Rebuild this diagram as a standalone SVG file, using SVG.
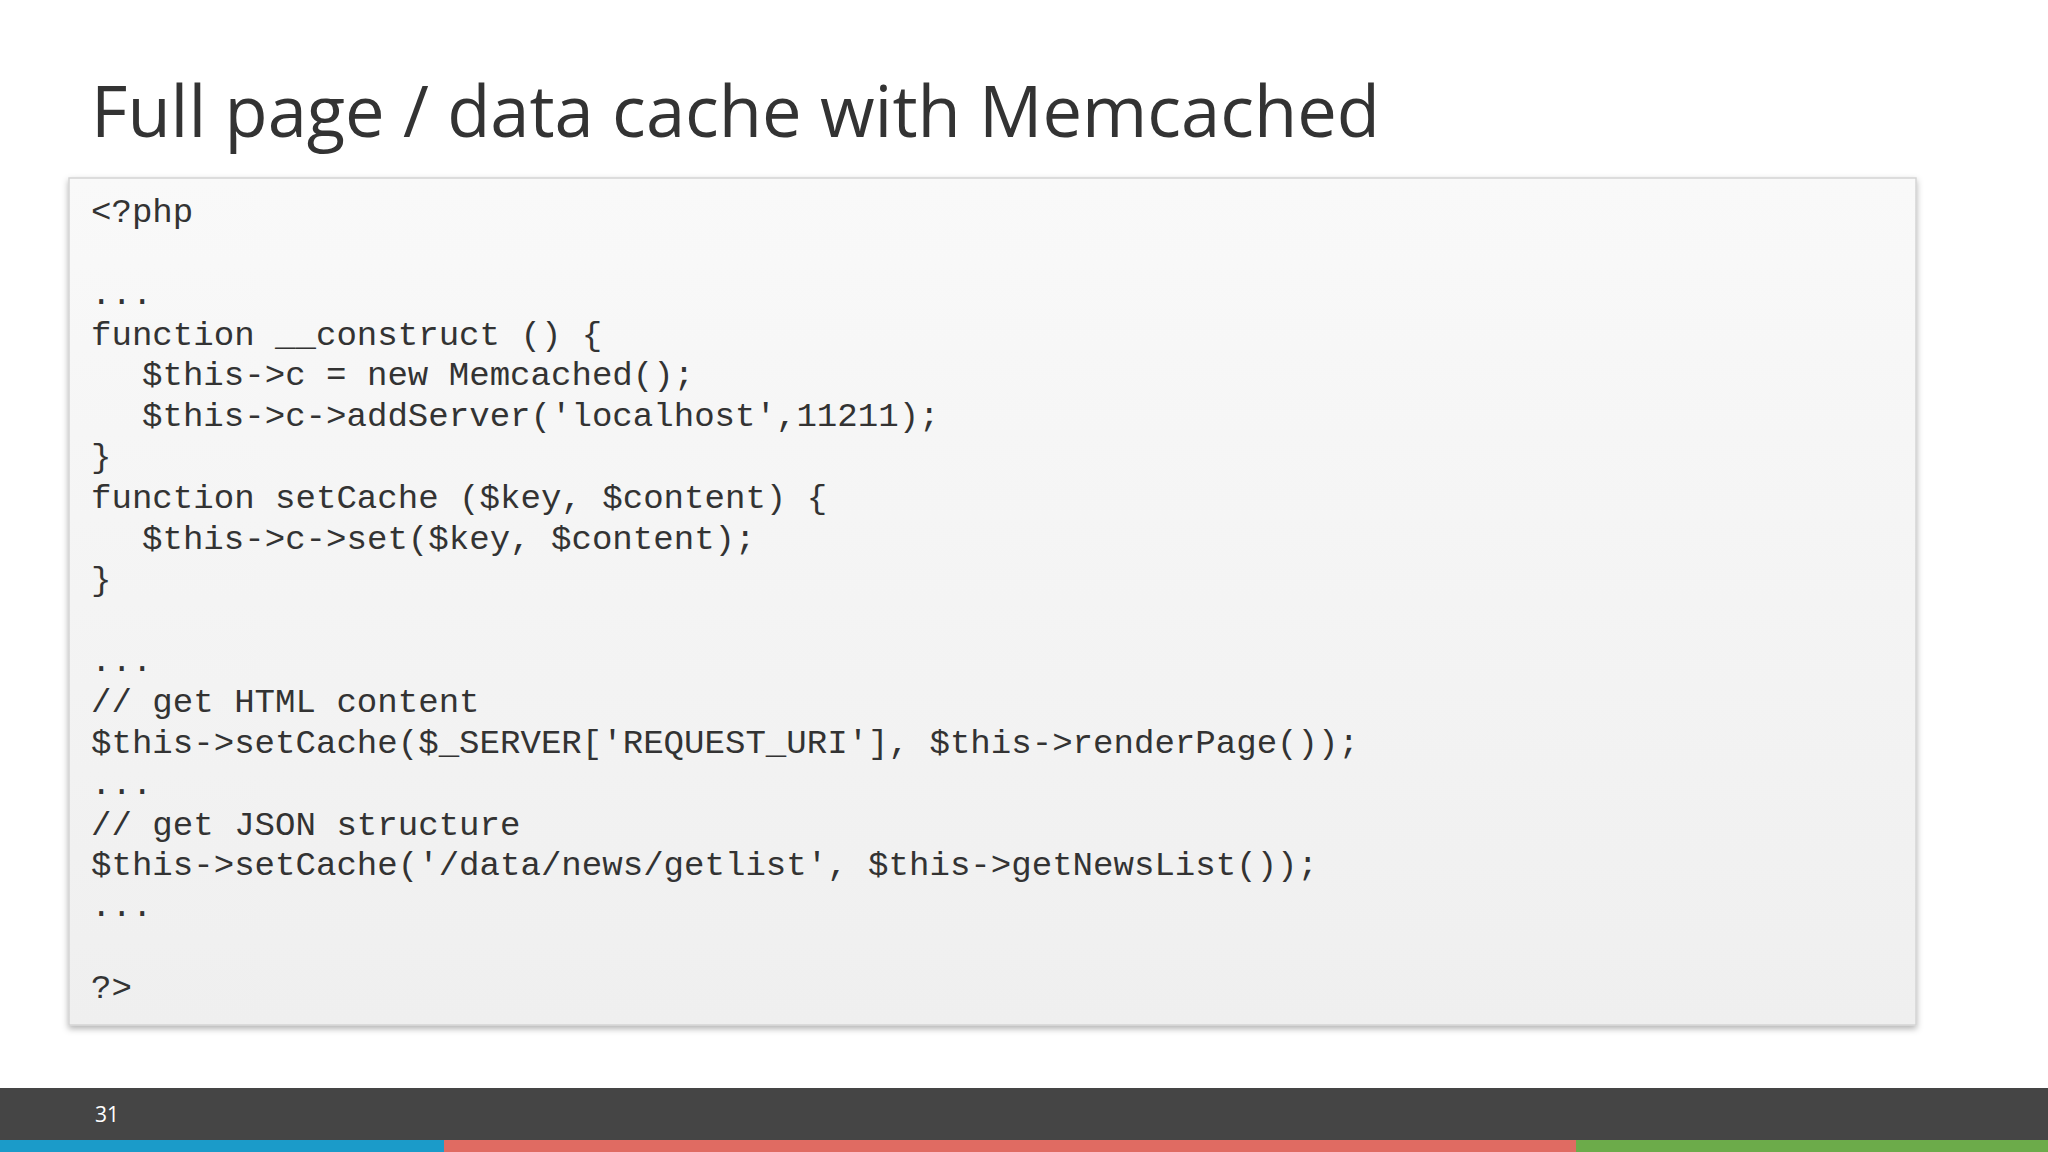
<svg xmlns="http://www.w3.org/2000/svg" width="2048" height="1152" viewBox="0 0 2048 1152">
<defs>
<linearGradient id="g" x1="0" y1="0" x2="0" y2="1"><stop offset="0" stop-color="#f9f9f9"/><stop offset="1" stop-color="#efefef"/></linearGradient>
<filter id="sh" x="-5%" y="-5%" width="110%" height="115%"><feDropShadow dx="0" dy="3" stdDeviation="3" flood-color="#000" flood-opacity="0.3"/></filter>
<style>
.code{font-family:"Liberation Mono","Courier New",monospace;font-size:34.1px;fill:#333;white-space:pre}
</style>
</defs>
<rect width="2048" height="1152" fill="#fff"/>
<text x="91" y="137" font-family="Open Sans, Noto Sans, sans-serif" font-size="70.5" fill="#333">Full page / data cache with Memcached</text>
<g id="codebox">
<rect x="69" y="178" width="1847" height="847" fill="url(#g)" stroke="#d4d4d4" stroke-width="1.5" filter="url(#sh)"/>
<text class="code" xml:space="preserve">
<tspan x="91" y="222">&lt;?php</tspan>
<tspan x="91" y="303.7">...</tspan>
<tspan x="91" y="344.5">function __construct () {</tspan>
<tspan x="142" y="385.3">$this-&gt;c = new Memcached();</tspan>
<tspan x="142" y="426.2">$this-&gt;c-&gt;addServer('localhost',11211);</tspan>
<tspan x="91" y="467">}</tspan>
<tspan x="91" y="507.8">function setCache ($key, $content) {</tspan>
<tspan x="142" y="548.7">$this-&gt;c-&gt;set($key, $content);</tspan>
<tspan x="91" y="589.5">}</tspan>
<tspan x="91" y="671.2">...</tspan>
<tspan x="91" y="712">// get HTML content</tspan>
<tspan x="91" y="752.8">$this-&gt;setCache($_SERVER['REQUEST_URI'], $this-&gt;renderPage());</tspan>
<tspan x="91" y="793.7">...</tspan>
<tspan x="91" y="834.5">// get JSON structure</tspan>
<tspan x="91" y="875.3">$this-&gt;setCache('/data/news/getlist', $this-&gt;getNewsList());</tspan>
<tspan x="91" y="916.2">...</tspan>
<tspan x="91" y="997.8">?&gt;</tspan>
</text>
</g>
<g id="footer">
<rect x="0" y="1088" width="2048" height="52" fill="#454545"/>
<rect x="0" y="1140" width="444" height="12" fill="#1b9bc9"/>
<rect x="444" y="1140" width="1132" height="12" fill="#e06b62"/>
<rect x="1576" y="1140" width="472" height="12" fill="#6cab4a"/>
<text x="95" y="1122" font-family="Open Sans, sans-serif" font-size="21" fill="#fff">31</text>
</g>
</svg>
